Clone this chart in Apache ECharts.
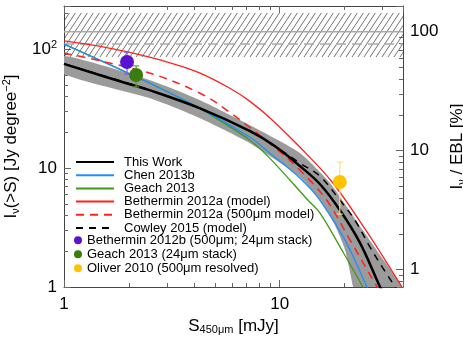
<!DOCTYPE html>
<html>
<head>
<meta charset="utf-8">
<script src="https://cdn.jsdelivr.net/npm/echarts@6/dist/echarts.min.js"></script>
<style>
html, body { margin: 0; padding: 0; background: #fff; }
#main { width: 463px; height: 338px; }
</style>
</head>
<body>
<div id="main"></div>
<script>
// integrated counts I(>S) [Jy deg^-2] against S450 [mJy]
var thisWorkX = [1, 2.0, 2.49, 4.25, 7.25, 9.48, 12.4, 15.35, 19.0, 23.6, 29.2, 31.1];
var thisWorkY = [75, 50.8, 45.2, 31.9, 20.5, 15.3, 10.4, 7.34, 4.44, 2.34, 1.0, 0.8];

// grey uncertainty band around this work
var bandUpperX = [1, 2.49, 4.25, 7.25, 12.4, 17.1, 24.3, 30.8, 36.9, 39.4];
var bandUpperY = [87.3, 54.9, 37.3, 23.0, 13.4, 7.5, 3.0, 1.62, 1.0, 0.82];
var bandLowerX = [1, 2.49, 4.25, 7.25, 12.4, 15.35, 18.0, 20.1, 21.9, 22.3];
var bandLowerY = [61.7, 38.7, 26.3, 16.2, 8.4, 5.38, 3.32, 2.05, 1.0, 0.82];

var chenX = [1, 2.49, 4.25, 7.25, 8.99, 12.4, 15.35, 20.1, 25.4, 27.1];
var chenY = [110, 51.8, 31.9, 18.2, 13.4, 8.24, 5.38, 2.48, 1.0, 0.78];

var geachX = [1, 2.49, 4.25, 4.73, 7.25, 8.99, 13.5, 15.35, 19.4, 24.3, 25.9];
var geachY = [110, 51.8, 31.9, 28.4, 17.2, 12.1, 5.38, 4.19, 2.05, 1.0, 0.78];

var betModelX = [1, 1.62, 2.49, 3.3, 4.25, 5.85, 7.25, 8.99, 12.4, 17.5, 25.4, 36.9, 40.2];
var betModelY = [117, 102, 85.7, 74, 63, 47, 36.5, 26.5, 15.0, 7.63, 2.9, 1.0, 0.78];

var bet500X = [1, 2.49, 4.25, 5.85, 9.79, 12.4, 16.5, 21.2, 28.3, 30.8];
var bet500Y = [92.5, 62.8, 42.7, 29.5, 14.2, 9.62, 5.38, 2.48, 1.0, 0.78];

var cowleyX = [1, 2.49, 4.25, 7.25, 9.48, 12.4, 15.35, 19.0, 22.3, 26.2, 30.1, 34.3, 36.2];
var cowleyY = [75, 45.2, 31.9, 20.5, 15.3, 11.0, 8.56, 5.38, 3.66, 2.17, 1.44, 1.0, 0.84];

// stacking / resolved points: [S, I, I_low, I_high]
var betStack = [1.96, 77.8, 61.6, 94.2];
var geachStack = [2.16, 60.5, 48.0, 72.1];
var oliverResolved = [19.0, 7.63, 4.1, 11.2];

// EBL level (100 %), its lower estimate and the hatched range
var eblTotal = 140;
var eblLower = 110;
var eblRange = [85.7, 201];

var xMin = 1, xMax = 37.3;
var yMin = 1, yMax = 230;

function pairs(xs, ys) {
  return xs.map(function (x, i) { return [x, ys[i]]; });
}

function isDecade(v) {
  var l = Math.log10(v);
  return Math.abs(l - Math.round(l)) < 1e-6;
}

function hatchPattern() {
  var c = document.createElement('canvas');
  c.width = 6; c.height = 9;
  var g = c.getContext('2d');
  g.strokeStyle = '#333';
  g.lineWidth = 0.7;
  g.beginPath();
  for (var k = -1; k <= 1; k++) {
    g.moveTo(k * 6, 9);
    g.lineTo(k * 6 + 6, 0);
  }
  g.stroke();
  return c;
}
var hatch = hatchPattern();

function errorBar(pt, color) {
  return {
    type: 'custom',
    clip: true,
    z: 4,
    data: [[pt[0], pt[2], pt[3]]],
    encode: { x: 0, y: [1, 2] },
    renderItem: function (params, api) {
      var lo = api.coord([api.value(0), api.value(1)]);
      var hi = api.coord([api.value(0), api.value(2)]);
      var st = { stroke: color, lineWidth: 1.2 };
      return {
        type: 'group',
        children: [
          { type: 'line', shape: { x1: lo[0], y1: lo[1], x2: hi[0], y2: hi[1] }, style: st },
          { type: 'line', shape: { x1: lo[0] - 3, y1: lo[1], x2: lo[0] + 3, y2: lo[1] }, style: st },
          { type: 'line', shape: { x1: hi[0] - 3, y1: hi[1], x2: hi[0] + 3, y2: hi[1] }, style: st }
        ]
      };
    }
  };
}

function modelLine(name, xs, ys, color, width, type, z) {
  return {
    name: name,
    type: 'line',
    data: pairs(xs, ys),
    symbol: 'none',
    smooth: 0.35,
    z: z,
    lineStyle: { color: color, width: width, type: type },
    itemStyle: { color: color }
  };
}

function point(name, pt, color) {
  return {
    name: name,
    type: 'scatter',
    data: [[pt[0], pt[1]]],
    symbol: 'circle',
    symbolSize: 14,
    z: 5,
    itemStyle: { color: color, opacity: 1 }
  };
}

var chart = echarts.init(document.getElementById('main'));
var font = 'Liberation Sans, Arial, Helvetica, sans-serif';
var axisColor = '#444';

var tickStyle = { inside: true, length: 7, lineStyle: { color: '#666', width: 1 } };
var minorStyle = { show: true, splitNumber: 9, length: 4, lineStyle: { color: '#666', width: 1 } };

var option = {
  animation: false,
  backgroundColor: '#fff',
  textStyle: { fontFamily: font },
  grid: { left: 64, right: 60, top: 6, bottom: 51, containLabel: false, outerBoundsMode: 'none' },
  legend: [
    {
      data: ['This Work', 'Chen 2013b', 'Geach 2013', 'Bethermin 2012a (model)',
             'Bethermin 2012a (500μm model)', 'Cowley 2015 (model)'],
      orient: 'vertical',
      left: 75, top: 155.5,
      padding: 0,
      itemWidth: 38, itemHeight: 13, itemGap: 0.2,
      selectedMode: false,
      itemStyle: { opacity: 0 },
      textStyle: { fontFamily: font, fontSize: 13, color: '#000', lineHeight: 13, padding: [0, 0, 0, 5] }
    },
    {
      data: ['Bethermin 2012b (500μm; 24μm stack)', 'Geach 2013 (24μm stack)', 'Oliver 2010 (500μm resolved)'],
      orient: 'vertical',
      left: 74, top: 233.5,
      padding: 0,
      icon: 'circle',
      itemWidth: 8, itemHeight: 8, itemGap: 0.5,
      selectedMode: false,
      textStyle: { fontFamily: font, fontSize: 13, color: '#000', lineHeight: 13.5 }
    }
  ],
  xAxis: [
    {
      type: 'log', min: xMin, max: xMax, position: 'bottom',
      name: 'S{sub|450μm} [mJy]', nameLocation: 'middle', nameGap: 26,
      nameTextStyle: { fontFamily: font, fontSize: 17, color: '#000',
        rich: { sub: { fontFamily: font, fontSize: 11, padding: [8, 0, 0, 0], color: '#000' } } },
      axisLine: { show: true, lineStyle: { color: axisColor, width: 1 } },
      axisTick: tickStyle,
      minorTick: minorStyle,
      splitLine: { show: false },
      axisLabel: {
        fontFamily: font, fontSize: 17, color: '#000', margin: 9,
        showMaxLabel: false,
        formatter: function (v) { return isDecade(v) ? String(Math.round(v)) : ''; }
      }
    },
    {
      type: 'log', min: xMin, max: xMax, position: 'top',
      axisLine: { show: true, lineStyle: { color: axisColor, width: 1 } },
      axisTick: tickStyle,
      minorTick: minorStyle,
      splitLine: { show: false },
      axisLabel: { show: false }
    }
  ],
  yAxis: [
    {
      type: 'log', min: yMin, max: yMax, position: 'left',
      name: 'I{sub|ν}(>S) [Jy degree{sup|−2}]', nameLocation: 'middle', nameGap: 40, nameRotate: 90,
      nameTextStyle: { fontFamily: font, fontSize: 17, color: '#000',
        rich: {
          sub: { fontFamily: font, fontSize: 11, padding: [8, 0, 0, 0], color: '#000' },
          sup: { fontFamily: font, fontSize: 11, padding: [0, 0, 9, 0], color: '#000' }
        } },
      axisLine: { show: true, lineStyle: { color: axisColor, width: 1 } },
      axisTick: tickStyle,
      minorTick: minorStyle,
      splitLine: { show: false },
      axisLabel: {
        fontFamily: font, fontSize: 17, color: '#000', margin: 7,
        showMaxLabel: false,
        formatter: function (v) {
          if (!isDecade(v)) return '';
          var p = Math.round(Math.log10(v));
          return p < 2 ? String(Math.round(v)) : '10{sup|' + p + '}';
        },
        rich: { sup: { fontFamily: font, fontSize: 11, padding: [0, 0, 9, 0], color: '#000' } }
      }
    },
    {
      type: 'log', min: yMin * 100 / eblTotal, max: yMax * 100 / eblTotal, position: 'right',
      name: 'I{sub|ν} / EBL [%]', nameLocation: 'middle', nameGap: 40, nameRotate: 90,
      nameTextStyle: { fontFamily: font, fontSize: 17, color: '#000',
        rich: { sub: { fontFamily: font, fontSize: 11, padding: [8, 0, 0, 0], color: '#000' } } },
      axisLine: { show: true, lineStyle: { color: axisColor, width: 1 } },
      axisTick: tickStyle,
      minorTick: minorStyle,
      splitLine: { show: false },
      axisLabel: {
        fontFamily: font, fontSize: 17, color: '#000', margin: 7,
        showMinLabel: false, showMaxLabel: false,
        formatter: function (v) { return isDecade(v) ? String(Math.round(v)) : ''; }
      }
    }
  ],
  series: [
    {
      // EBL hatch and reference lines
      type: 'custom',
      clip: true,
      z: 1,
      silent: true,
      data: [[xMin, eblRange[0], eblRange[1], eblTotal, eblLower]],
      encode: { x: 0, y: [1, 2] },
      renderItem: function (params, api) {
        var a = api.coord([xMin, eblRange[1]]);
        var b = api.coord([xMax, eblRange[0]]);
        var t = api.coord([xMin, eblTotal]);
        var l = api.coord([xMin, eblLower]);
        return {
          type: 'group',
          children: [
            { type: 'rect', shape: { x: a[0], y: a[1], width: b[0] - a[0], height: b[1] - a[1] },
              style: { fill: { image: hatch, repeat: 'repeat' } } },
            { type: 'line', shape: { x1: a[0], y1: t[1], x2: b[0], y2: t[1] },
              style: { stroke: '#aaa', lineWidth: 1.5 } },
            { type: 'line', shape: { x1: a[0], y1: l[1], x2: b[0], y2: l[1] },
              style: { stroke: '#aaa', lineWidth: 1.5, lineDash: [10, 6] } }
          ]
        };
      }
    },
    {
      // grey band
      type: 'custom',
      clip: true,
      z: 1,
      silent: true,
      data: [[bandUpperX[0], bandUpperY[0]]],
      encode: { x: 0, y: 1 },
      renderItem: function (params, api) {
        var pts = [];
        for (var i = 0; i < bandUpperX.length; i++) pts.push(api.coord([bandUpperX[i], bandUpperY[i]]));
        for (var j = bandLowerX.length - 1; j >= 0; j--) pts.push(api.coord([bandLowerX[j], bandLowerY[j]]));
        return { type: 'polygon', shape: { points: pts, smooth: 0.2 }, style: { fill: '#9b9b9b' } };
      }
    },
    modelLine('Geach 2013', geachX, geachY, '#3f9a16', 1.3, 'solid', 2),
    modelLine('Chen 2013b', chenX, chenY, '#1e8fff', 1.3, 'solid', 2),
    modelLine('Bethermin 2012a (500μm model)', bet500X, bet500Y, '#ff2020', 1.5, [8, 6], 2),
    modelLine('Bethermin 2012a (model)', betModelX, betModelY, '#ff2020', 1.3, 'solid', 2),
    modelLine('Cowley 2015 (model)', cowleyX, cowleyY, '#000', 1.5, [7, 6], 2),
    modelLine('This Work', thisWorkX, thisWorkY, '#000', 2.5, 'solid', 3),
    errorBar(betStack, '#8a5ad8'),
    errorBar(geachStack, '#5a9a3a'),
    errorBar(oliverResolved, '#ffe07a'),
    point('Bethermin 2012b (500μm; 24μm stack)', betStack, '#5a12d2'),
    point('Geach 2013 (24μm stack)', geachStack, '#3a7d0e'),
    point('Oliver 2010 (500μm resolved)', oliverResolved, '#ffc400')
  ]
};

chart.setOption(option);
</script>
</body>
</html>
